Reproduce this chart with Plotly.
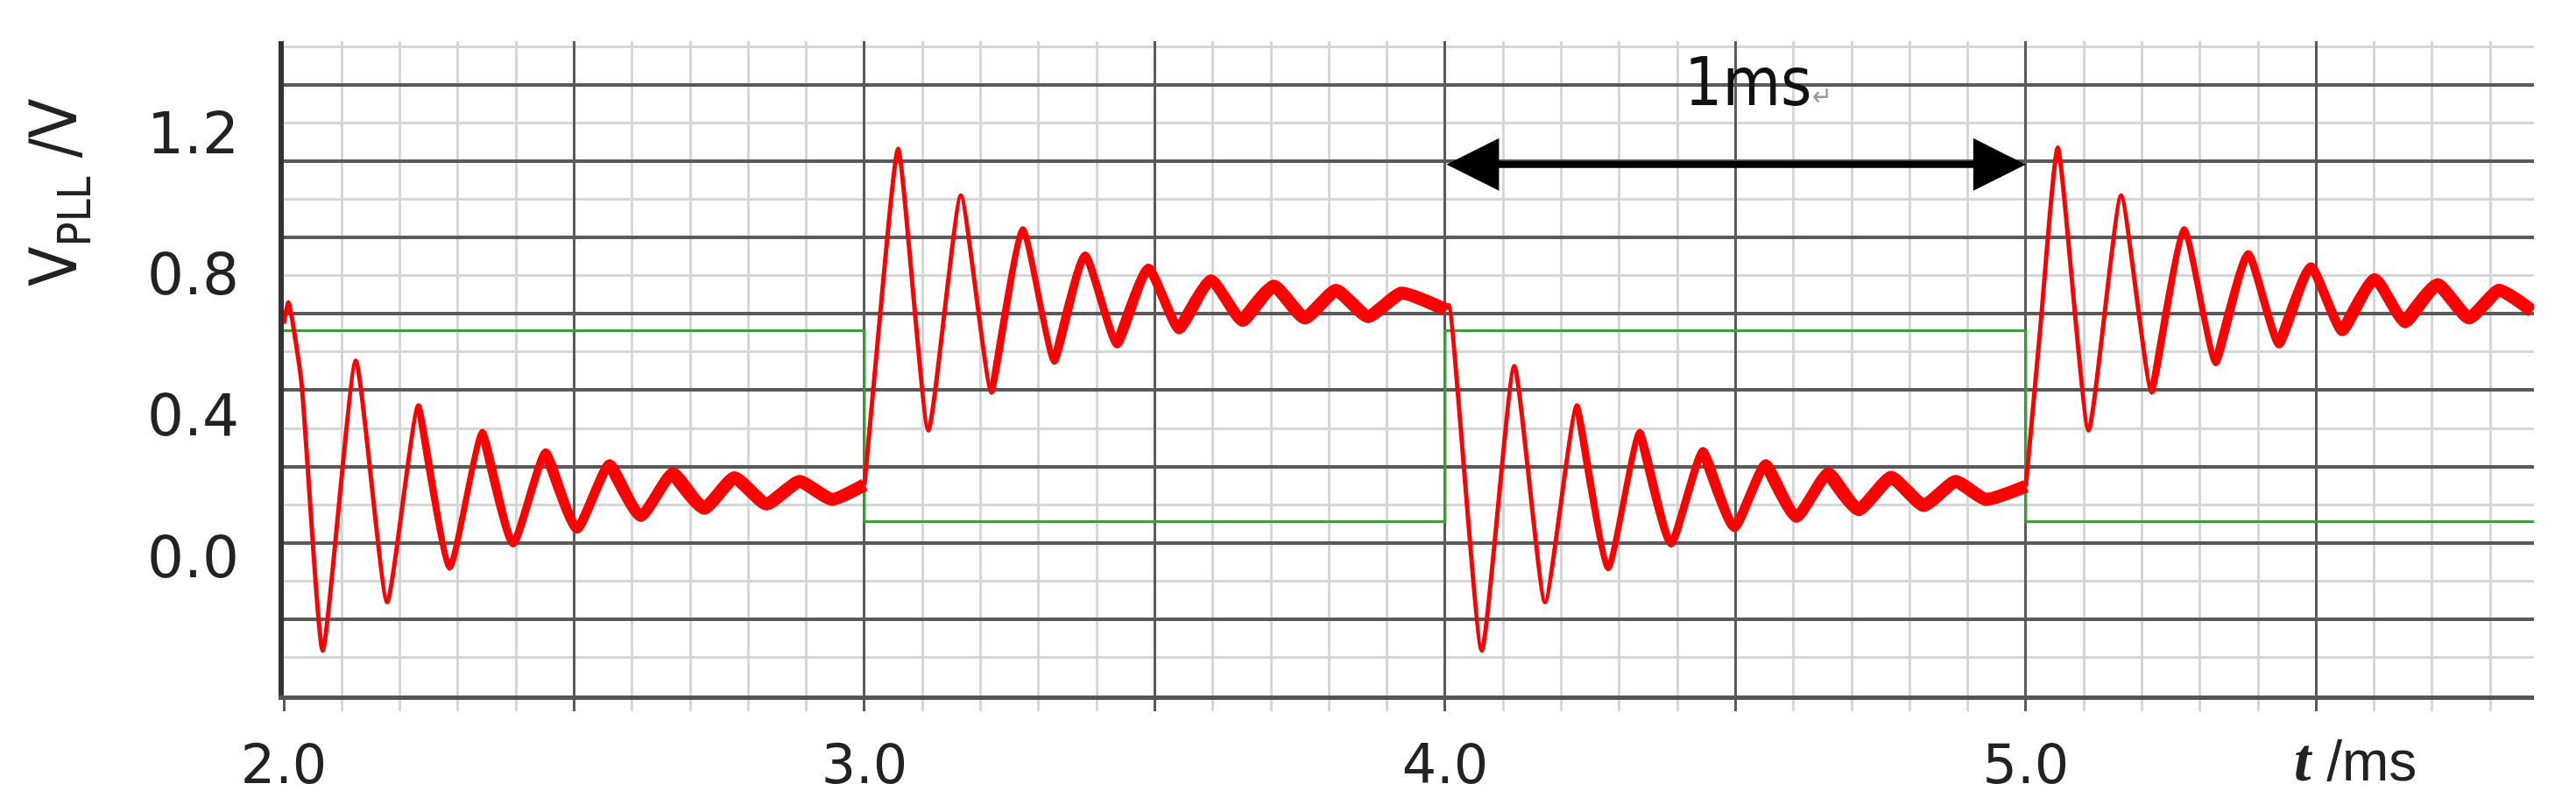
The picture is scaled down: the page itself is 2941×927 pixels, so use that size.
import plotly.graph_objects as go

# ---------------- data ----------------
# red trace V_PLL (V) vs t (ms), turning points of the damped ringing, four transients
t_a = [2.000, 2.008, 2.030, 2.067, 2.124, 2.178, 2.232, 2.286, 2.342, 2.395, 2.451,
       2.505, 2.561, 2.615, 2.670, 2.724, 2.776, 2.831, 2.888, 2.944, 3.000]
v_a = [0.66, 0.72, 0.50, -0.265, 0.555, -0.128, 0.429, -0.030, 0.354, 0.038, 0.296,
       0.080, 0.263, 0.115, 0.238, 0.138, 0.224, 0.150, 0.213, 0.163, 0.204]

t_b = [3.000, 3.025, 3.058, 3.110, 3.166, 3.219, 3.273, 3.327, 3.380, 3.435, 3.489,
       3.542, 3.597, 3.651, 3.705, 3.758, 3.812, 3.867, 3.925, 4.000]
v_b = [0.204, 0.65, 1.155, 0.358, 1.022, 0.465, 0.927, 0.552, 0.853, 0.601, 0.816,
       0.643, 0.783, 0.667, 0.766, 0.676, 0.754, 0.680, 0.746, 0.700]

t_c = [4.000, 4.006, 4.063, 4.119, 4.172, 4.227, 4.281, 4.335, 4.389, 4.444, 4.498,
       4.552, 4.605, 4.660, 4.712, 4.768, 4.824, 4.879, 4.931, 5.000]
v_c = [0.700, 0.712, -0.265, 0.540, -0.128, 0.429, -0.032, 0.354, 0.038, 0.300, 0.084,
       0.263, 0.113, 0.238, 0.134, 0.225, 0.146, 0.213, 0.163, 0.200]

t_d = [5.000, 5.025, 5.055, 5.108, 5.164, 5.217, 5.273, 5.327, 5.383, 5.436, 5.491,
       5.545, 5.601, 5.653, 5.709, 5.763, 5.815, 5.872]
v_d = [0.200, 0.65, 1.158, 0.358, 1.022, 0.465, 0.927, 0.548, 0.857, 0.601, 0.820,
       0.638, 0.787, 0.663, 0.770, 0.676, 0.754, 0.696]

# green square reference
t_green = [2.0, 3.0, 4.0, 5.0, 5.875]
v_green = [0.64, 0.10, 0.64, 0.10, 0.10]

# axis ticks
x_tick_vals = [2.0, 2.5, 3.0, 3.5, 4.0, 4.5, 5.0, 5.5]
x_tick_text = ["2.0", "", "3.0", "", "4.0", "", "5.0", ""]
y_tick_vals = [0.0, 0.4, 0.8, 1.2]
y_tick_text = ["0.0", "0.4", "0.8", "1.2"]

# ---------------- styling ----------------
X_RANGE = [2.0, 5.875]
Y_RANGE = [-0.392, 1.459]
GRID_STEP = 0.2159          # spacing of the dark horizontal grid (V)
RED = "#ff0000"
GREEN = "#3d9e3d"
DARK = "#5a5a5a"
LIGHT = "#d6d6d6"
NARROW = "Liberation Sans Narrow, DejaVu Sans Condensed, Liberation Sans, Arial"

y_grid_major = [Y_RANGE[0] + k * GRID_STEP for k in range(9)]
y_grid_minor = [Y_RANGE[0] + (k + 0.5) * GRID_STEP for k in range(9)]

fig = go.Figure()

fig.add_trace(go.Scatter(x=t_green, y=v_green, mode="lines",
                         line=dict(color=GREEN, width=3, shape="hv"),
                         hoverinfo="skip", showlegend=False))

# red line gets thicker as ringing decays (layers starting later are wider)
layer_offsets = [0.0, 0.21, 0.32, 0.43, 0.54, 0.65]
layer_widths = [5.0, 7.0, 9.0, 11.0, 13.0, 15.0]
for t, v in [(t_a, v_a), (t_b, v_b), (t_c, v_c), (t_d, v_d)]:
    for off, w in zip(layer_offsets, layer_widths):
        idx = [i for i, tt in enumerate(t) if tt >= t[0] + off - 1e-9]
        if len(idx) < 2:
            continue
        i0 = idx[0]
        fig.add_trace(go.Scatter(x=t[i0:], y=v[i0:], mode="lines", yaxis="y2",
                                 line=dict(color=RED, width=w, shape="spline", smoothing=0.5),
                                 hoverinfo="skip", showlegend=False))

# page body has an 8px default margin; size the figure so the plot lands where the reference has it
OFF = 8
W, H = 2925, 911
L, T = 324 - OFF, 47 - OFF
R = (OFF + W) - 2893
B = (OFF + H) - 794
pw, ph = W - L - R, H - T - B


def px_x(px):
    return (px - OFF - L) / pw


def px_y(py):
    return (OFF + H - B - py) / ph


fig.update_layout(
    width=W, height=H,
    margin=dict(l=L, r=R, t=T, b=B, autoexpand=False),
    paper_bgcolor="white", plot_bgcolor="white", showlegend=False,
    xaxis=dict(range=X_RANGE, tickmode="array", tickvals=x_tick_vals, ticktext=x_tick_text,
               showgrid=True, gridcolor=DARK, gridwidth=3,
               ticks="outside", ticklen=13, tickwidth=3, tickcolor=DARK,
               minor=dict(tick0=2.0, dtick=0.1, showgrid=True, gridcolor=LIGHT, gridwidth=3,
                          ticks="outside", ticklen=13, tickwidth=3, tickcolor=LIGHT),
               showline=True, linecolor="#555555", linewidth=5, zeroline=False,
               tickfont=dict(family="DejaVu Sans", size=62, color="#222222"),
               ticklabelstandoff=8, automargin=False, fixedrange=True),
    yaxis=dict(range=Y_RANGE, tickmode="array", tickvals=y_grid_major, showticklabels=False,
               ticks="", showgrid=True, gridcolor=DARK, gridwidth=4,
               minor=dict(tickmode="array", tickvals=y_grid_minor, showgrid=True,
                          gridcolor=LIGHT, gridwidth=3, ticks=""),
               showline=True, linecolor="#333333", linewidth=6, zeroline=False,
               automargin=False, fixedrange=True),
    yaxis2=dict(range=Y_RANGE, overlaying="y", side="left", tickmode="array",
                tickvals=y_tick_vals, ticktext=y_tick_text, showgrid=False, zeroline=False,
                showline=False, ticks="",
                tickfont=dict(family="DejaVu Sans", size=66, color="#222222"),
                ticklabelstandoff=50, automargin=False, fixedrange=True),
    annotations=[
        dict(text="V<sub>PLL</sub> /V", xref="paper", yref="paper",
             x=px_x(66), y=px_y(220), textangle=-90, showarrow=False,
             xanchor="center", yanchor="middle",
             font=dict(family=NARROW, size=74, color="#222222")),
        dict(text='1ms<span style="font-size:30px;color:#999999">\u21b5</span>',
             xref="x", yref="y", x=4.409, y=1.345, xanchor="left", yanchor="middle",
             showarrow=False, font=dict(family=NARROW, size=76, color="#111111")),
        dict(text='<span style="font-family:Liberation Serif, Times New Roman, serif;font-size:70px"><b><i>t</i></b></span> /ms',
             xref="paper", yref="paper", x=px_x(2617), y=px_y(868),
             xanchor="left", yanchor="middle",
             showarrow=False, font=dict(family="Liberation Sans, Arial", size=64, color="#222222")),
        dict(text="", xref="x", yref="y", axref="x", ayref="y",
             x=5.0, y=1.11, ax=4.0, ay=1.11, showarrow=True,
             arrowhead=2, startarrowhead=2, arrowside="end+start",
             arrowsize=1.5, startarrowsize=1.5, arrowwidth=8, arrowcolor="#000000"),
    ],
)

fig.write_html("out.html")
